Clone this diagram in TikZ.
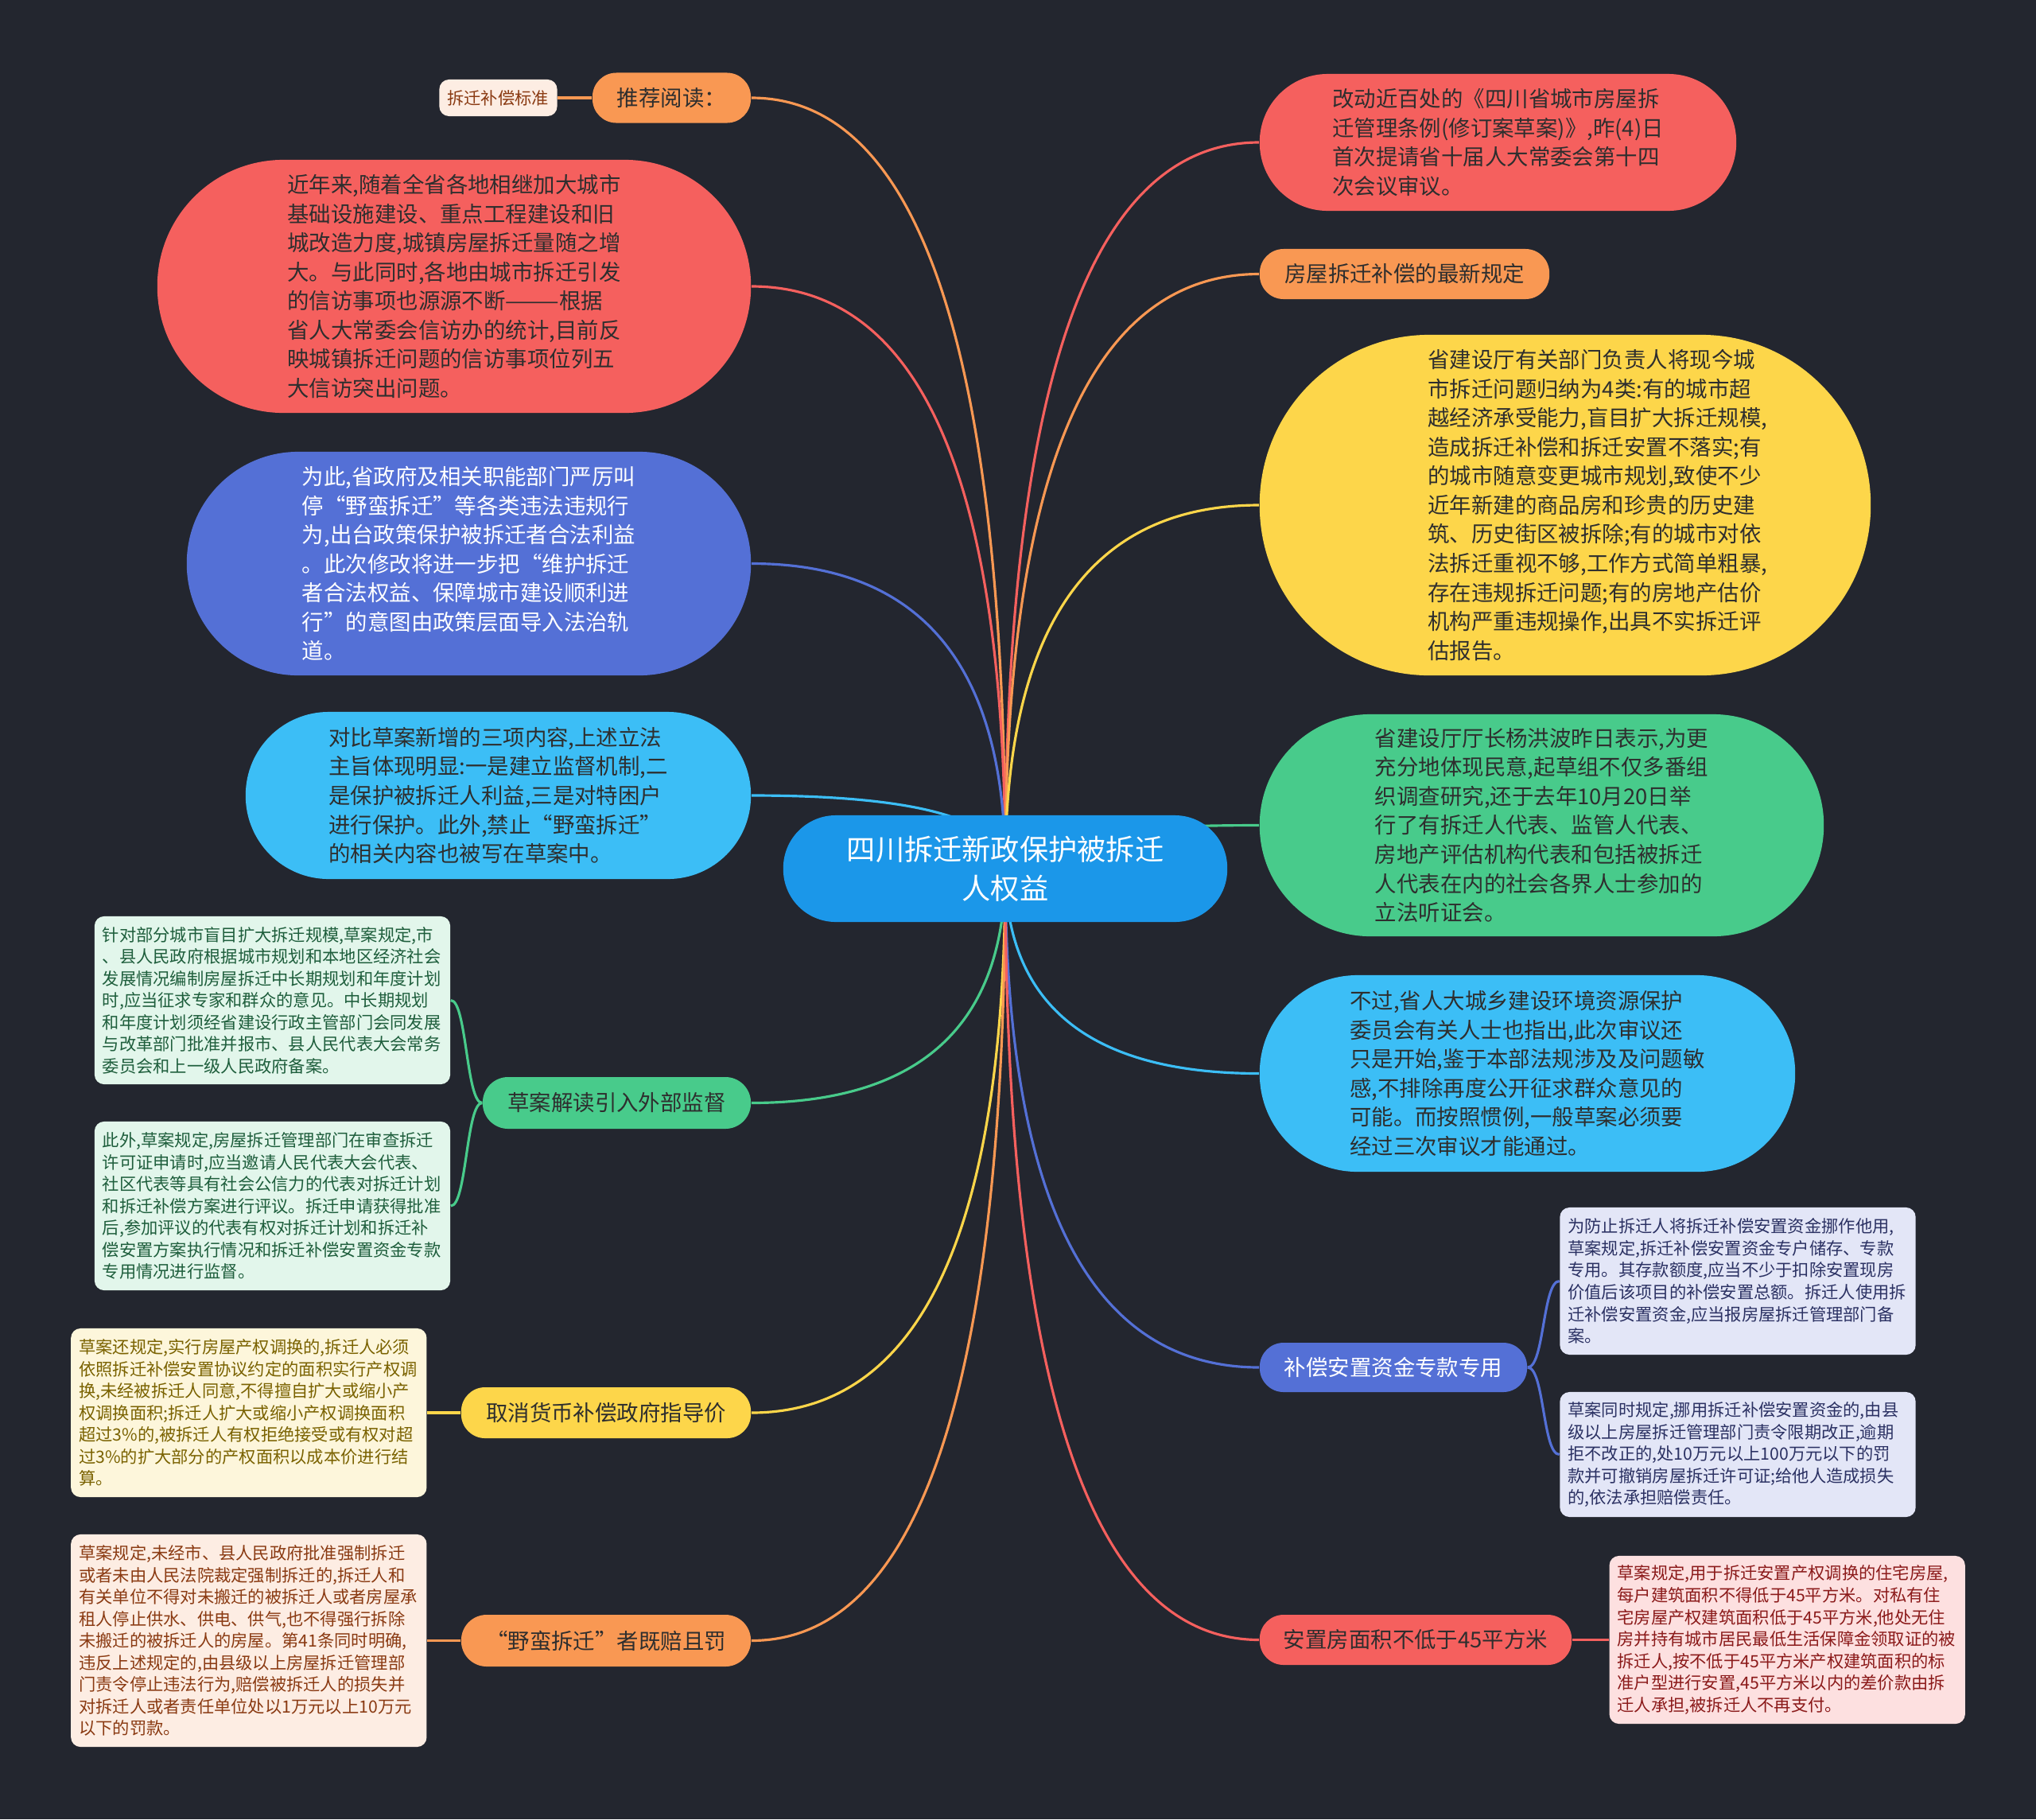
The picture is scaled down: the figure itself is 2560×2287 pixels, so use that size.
\documentclass[tikz,border=0pt]{standalone}
\usepackage{fontspec}
\setmainfont{Noto Sans CJK SC}
\usetikzlibrary{positioning,calc,backgrounds}
\definecolor{beijing}{HTML}{23262F}
\definecolor{zhutilan}{HTML}{1B97E9}
\definecolor{hong}{HTML}{F5605E}
\definecolor{cheng}{HTML}{F99853}
\definecolor{huang}{HTML}{FDD64A}
\definecolor{lv}{HTML}{48CB8B}
\definecolor{qianlan}{HTML}{3CBEF6}
\definecolor{lan}{HTML}{5470D6}
\definecolor{shenzi}{HTML}{2E2E2E}
\definecolor{lvzhu}{HTML}{E2F6EB}
\definecolor{huangzhu}{HTML}{FDF6DB}
\definecolor{chengzhu}{HTML}{FDEDE3}
\definecolor{lanzhu}{HTML}{E3E6F7}
\definecolor{hongzhu}{HTML}{FDE0E0}
\definecolor{lvzi}{HTML}{1E5E3C}
\definecolor{huangzi}{HTML}{7A6200}
\definecolor{chengzi}{HTML}{8A3A12}
\definecolor{lanzi}{HTML}{2B3163}
\definecolor{hongzi}{HTML}{8B1A1A}
\tikzset{
  zhuti/.style={fill=zhutilan,text=white,align=center,font=\fontsize{10.3}{13.9}\selectfont,
                minimum width=5.58cm,minimum height=1.34cm,rounded corners=0.66cm},
  dapao/.style={fill=#1,text=shenzi,align=left,font=\fontsize{7.8}{10.4}\selectfont},
  xiaopao/.style={fill=#1,text=shenzi,font=\fontsize{7.8}{10.4}\selectfont,
                  minimum height=0.63cm,rounded corners=0.3cm},
  zhushi/.style={fill=#1,rounded corners=0.12cm,align=left,font=\fontsize{6.05}{7.83}\selectfont,
                 inner xsep=0.1cm,text width=4.27cm},
  lianxian/.style={draw=#1,line width=0.9pt},
}

\begin{document}
\begin{tikzpicture}[x=0.01cm,y=-0.01cm]
  \useasboundingbox (0,0) rectangle (2560,2287);
  \begin{scope}[on background layer]
    \fill[beijing] (0,0) rectangle (2560,2287);
  \end{scope}

  \node[zhuti] (Z) at (1264,1092) {四川拆迁新政保护被拆迁\\人权益};

  % linke Seite
  \node[xiaopao=cheng,minimum width=1.99cm] (L0) at (844.5,123) {推荐阅读：};
  \node[zhushi=chengzhu,text=chengzi,text width=1.28cm,minimum height=0.46cm,left=0.43cm of L0] (L0a) {拆迁补偿标准};
  \node[dapao=hong,minimum width=7.46cm,minimum height=3.18cm,rounded corners=1.585cm] (L1) at (571,360)
    {近年来,随着全省各地相继加大城市\\基础设施建设、重点工程建设和旧\\城改造力度,城镇房屋拆迁量随之增\\大。与此同时,各地由城市拆迁引发\\的信访事项也源源不断———根据\\省人大常委会信访办的统计,目前反\\映城镇拆迁问题的信访事项位列五\\大信访突出问题。};
  \node[dapao=lan,text=white,minimum width=7.09cm,minimum height=2.81cm,rounded corners=1.4cm] (L2) at (589.5,708.5)
    {为此,省政府及相关职能部门严厉叫\\停“野蛮拆迁”等各类违法违规行\\为,出台政策保护被拆迁者合法利益\\。此次修改将进一步把“维护拆迁\\者合法权益、保障城市建设顺利进\\行”的意图由政策层面导入法治轨\\道。};
  \node[dapao=qianlan,minimum width=6.35cm,minimum height=2.1cm,rounded corners=1.045cm] (L3) at (626.5,1000)
    {对比草案新增的三项内容,上述立法\\主旨体现明显:一是建立监督机制,二\\是保护被拆迁人利益,三是对特困户\\进行保护。此外,禁止“野蛮拆迁”\\的相关内容也被写在草案中。};
  \node[xiaopao=lv,minimum width=3.37cm,minimum height=0.65cm,rounded corners=0.32cm] (L4) at (775.5,1386.5) {草案解读引入外部监督};
  \node[zhushi=lvzhu,text=lvzi,minimum height=2.11cm] (L4a) at (342.5,1257.5)
    {针对部分城市盲目扩大拆迁规模,草案规定,市\\、县人民政府根据城市规划和本地区经济社会\\发展情况编制房屋拆迁中长期规划和年度计划\\时,应当征求专家和群众的意见。中长期规划\\和年度计划须经省建设行政主管部门会同发展\\与改革部门批准并报市、县人民代表大会常务\\委员会和上一级人民政府备案。};
  \node[zhushi=lvzhu,text=lvzi,minimum height=2.12cm] (L4b) at (342.5,1516)
    {此外,草案规定,房屋拆迁管理部门在审查拆迁\\许可证申请时,应当邀请人民代表大会代表、\\社区代表等具有社会公信力的代表对拆迁计划\\和拆迁补偿方案进行评议。拆迁申请获得批准\\后,参加评议的代表有权对拆迁计划和拆迁补\\偿安置方案执行情况和拆迁补偿安置资金专款\\专用情况进行监督。};
  \node[xiaopao=huang,minimum width=3.64cm,minimum height=0.64cm] (L5) at (762,1776) {取消货币补偿政府指导价};
  \node[zhushi=huangzhu,text=huangzi,minimum height=2.12cm,left=0.42cm of L5] (L5a)
    {草案还规定,实行房屋产权调换的,拆迁人必须\\依照拆迁补偿安置协议约定的面积实行产权调\\换,未经被拆迁人同意,不得擅自扩大或缩小产\\权调换面积;拆迁人扩大或缩小产权调换面积\\超过3\%的,被拆迁人有权拒绝接受或有权对超\\过3\%的扩大部分的产权面积以成本价进行结\\算。};
  \node[xiaopao=cheng,minimum width=3.64cm,minimum height=0.65cm,rounded corners=0.32cm] (L6) at (762,2062.5) {“野蛮拆迁”者既赔且罚};
  \node[zhushi=chengzhu,text=chengzi,minimum height=2.67cm,left=0.42cm of L6] (L6a)
    {草案规定,未经市、县人民政府批准强制拆迁\\或者未由人民法院裁定强制拆迁的,拆迁人和\\有关单位不得对未搬迁的被拆迁人或者房屋承\\租人停止供水、供电、供气,也不得强行拆除\\未搬迁的被拆迁人的房屋。第41条同时明确,\\违反上述规定的,由县级以上房屋拆迁管理部\\门责令停止违法行为,赔偿被拆迁人的损失并\\对拆迁人或者责任单位处以1万元以上10万元\\以下的罚款。};

  % rechte Seite
  \node[dapao=hong,minimum width=5.99cm,minimum height=1.72cm,rounded corners=0.855cm] (R1) at (1883.5,179)
    {改动近百处的《四川省城市房屋拆\\迁管理条例(修订案草案)》,昨(4)日\\首次提请省十届人大常委会第十四\\次会议审议。};
  \node[xiaopao=cheng,minimum width=3.64cm] (R2) at (1766,344.5) {房屋拆迁补偿的最新规定};
  \node[dapao=huang,minimum width=7.68cm,minimum height=4.28cm,rounded corners=2.135cm] (R3) at (1968,635)
    {\hspace*{0.9cm}\parbox{4.35cm}{\raggedright
     省建设厅有关部门负责人将现今城\\市拆迁问题归纳为4类:有的城市超\\越经济承受能力,盲目扩大拆迁规模,\\造成拆迁补偿和拆迁安置不落实;有\\的城市随意变更城市规划,致使不少\\近年新建的商品房和珍贵的历史建\\筑、历史街区被拆除;有的城市对依\\法拆迁重视不够,工作方式简单粗暴,\\存在违规拆迁问题;有的房地产估价\\机构严重违规操作,出具不实拆迁评\\估报告。}};
  \node[dapao=lv,minimum width=7.09cm,minimum height=2.79cm,rounded corners=1.39cm] (R4) at (1938.5,1037.5)
    {省建设厅厅长杨洪波昨日表示,为更\\充分地体现民意,起草组不仅多番组\\织调查研究,还于去年10月20日举\\行了有拆迁人代表、监管人代表、\\房地产评估机构代表和包括被拆迁\\人代表在内的社会各界人士参加的\\立法听证会。};
  \node[dapao=qianlan,minimum width=6.73cm,minimum height=2.47cm,rounded corners=1.23cm] (R5) at (1920.5,1349.5)
    {不过,省人大城乡建设环境资源保护\\委员会有关人士也指出,此次审议还\\只是开始,鉴于本部法规涉及及问题敏\\感,不排除再度公开征求群众意见的\\可能。而按照惯例,一般草案必须要\\经过三次审议才能通过。};
  \node[xiaopao=lan,text=white,minimum width=3.36cm,minimum height=0.62cm] (R6) at (1752,1719) {补偿安置资金专款专用};
  \node[zhushi=lanzhu,text=lanzi,minimum height=1.85cm] (R6a) at (2185,1610.5)
    {为防止拆迁人将拆迁补偿安置资金挪作他用,\\草案规定,拆迁补偿安置资金专户储存、专款\\专用。其存款额度,应当不少于扣除安置现房\\价值后该项目的补偿安置总额。拆迁人使用拆\\迁补偿安置资金,应当报房屋拆迁管理部门备\\案。};
  \node[zhushi=lanzhu,text=lanzi,minimum height=1.57cm] (R6b) at (2185,1828.5)
    {草案同时规定,挪用拆迁补偿安置资金的,由县\\级以上房屋拆迁管理部门责令限期改正,逾期\\拒不改正的,处10万元以上100万元以下的罚\\款并可撤销房屋拆迁许可证;给他人造成损失\\的,依法承担赔偿责任。};
  \node[xiaopao=hong,minimum width=3.92cm] (R7) at (1780,2061.5) {安置房面积不低于45平方米};
  \node[zhushi=hongzhu,text=hongzi,minimum height=2.11cm,right=0.46cm of R7] (R7a)
    {草案规定,用于拆迁安置产权调换的住宅房屋,\\每户建筑面积不得低于45平方米。对私有住\\宅房屋产权建筑面积低于45平方米,他处无住\\房并持有城市居民最低生活保障金领取证的被\\拆迁人,按不低于45平方米产权建筑面积的标\\准户型进行安置,45平方米以内的差价款由拆\\迁人承担,被拆迁人不再支付。};

  % Verbindungen
  \begin{scope}[on background layer]
    \foreach \n/\c in {L0/cheng,L1/hong,L2/lan,L3/qianlan,L4/lv,L5/huang,L6/cheng}
      \draw[lianxian=\c] (Z.center) .. controls ($(Z.center)!2/3!(Z.center |- \n.east)$)
        and ($(\n.east)!2/3!(Z.center |- \n.east)$) .. (\n.east);
    \foreach \n/\c in {R1/hong,R2/cheng,R3/huang,R4/lv,R5/qianlan,R6/lan,R7/hong}
      \draw[lianxian=\c] (Z.center) .. controls ($(Z.center)!2/3!(Z.center |- \n.west)$)
        and ($(\n.west)!2/3!(Z.center |- \n.west)$) .. (\n.west);
    \draw[lianxian=cheng] (L0.west) -- (L0a.east);
    \draw[lianxian=lv] (L4.west) .. controls +(-20,0) and +(20,0) .. (L4a.east);
    \draw[lianxian=lv] (L4.west) .. controls +(-20,0) and +(20,0) .. (L4b.east);
    \draw[lianxian=huang] (L5.west) -- (L5a.east);
    \draw[lianxian=cheng] (L6.west) -- (L6a.east);
    \draw[lianxian=lan] (R6.east) .. controls +(21,0) and +(-21,0) .. (R6a.west);
    \draw[lianxian=lan] (R6.east) .. controls +(21,0) and +(-21,0) .. (R6b.west);
    \draw[lianxian=hong] (R7.east) -- (R7a.west);
  \end{scope}
\end{tikzpicture}
\end{document}
